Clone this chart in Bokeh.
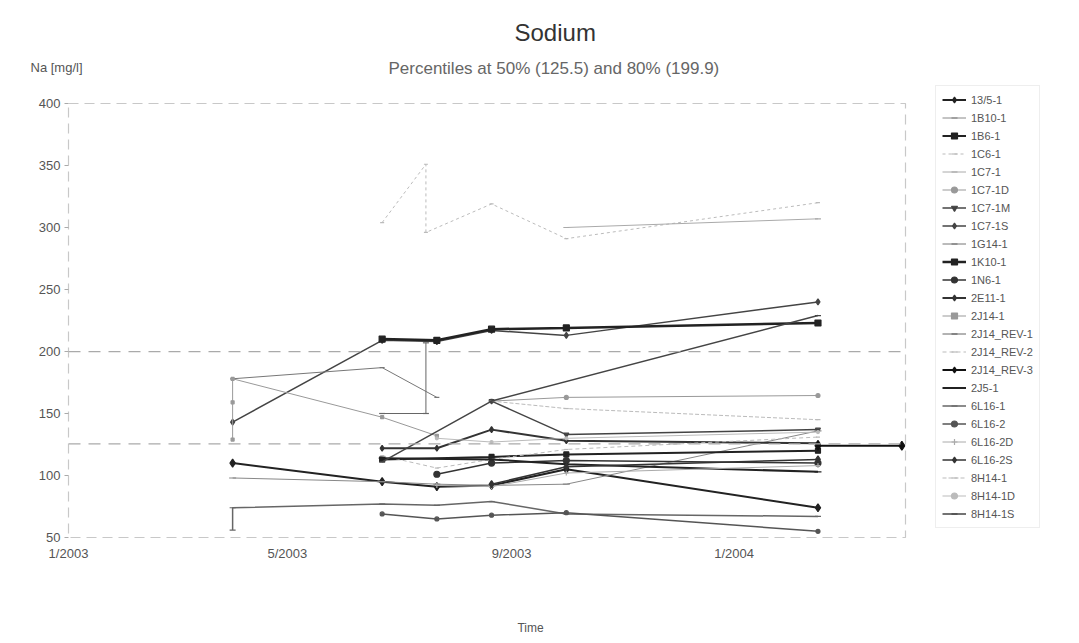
import pandas as pd
from bokeh.plotting import figure
from bokeh.models import (Legend, LegendItem, Label, Span, FixedTicker, Title,
                          DatetimeTickFormatter, Range1d)
from bokeh.embed import file_html
from bokeh.resources import INLINE

# ---------------- data ----------------
title_text = "Sodium"
subtitle_text = "Percentiles at 50% (125.5) and 80% (199.9)"
y_label = "Na [mg/l]"
x_label = "Time"
percentile_50 = 125.5
percentile_80 = 199.9
x_tick_dates = ["2003-01-01", "2003-05-01", "2003-09-01", "2004-01-01"]
y_ticks = [50, 100, 150, 200, 250, 300, 350, 400]

names = ["13/5-1", "1B10-1", "1B6-1", "1C6-1", "1C7-1", "1C7-1D", "1C7-1M",
         "1C7-1S", "1G14-1", "1K10-1", "1N6-1", "2E11-1", "2J14-1",
         "2J14_REV-1", "2J14_REV-2", "2J14_REV-3", "2J5-1", "6L16-1",
         "6L16-2", "6L16-2D", "6L16-2S", "8H14-1", "8H14-1D", "8H14-1S"]

d_13_5_1 = ["2003-04-01", "2003-06-22", "2003-07-22", "2003-08-21", "2003-10-01", "2004-02-16"]
v_13_5_1 = [110, 95, 91, 92, 105, 74]
d_1B10_1 = ["2003-04-01", "2003-06-22", "2003-07-22", "2003-08-21", "2003-10-01", "2004-02-16"]
v_1B10_1 = [98, 95, 93, 92, 93, 136]
d_1B6_1 = ["2003-06-22", "2003-08-21", "2003-10-01", "2004-02-16"]
v_1B6_1 = [113, 115, 117, 120]
d_1C6_1 = ["2003-06-22", "2003-07-16", "2003-07-16", "2003-08-21", "2003-10-01", "2004-02-16"]
v_1C6_1 = [304, 351, 296, 319, 291, 320]
d_1C7_1 = ["2003-10-01", "2004-02-16"]
v_1C7_1 = [300, 307]
d_1C7_1D = ["2003-08-21", "2003-10-01", "2004-02-16"]
v_1C7_1D = [160, 163, 164.5]
d_1C7_1M = ["2003-08-21", "2003-10-01", "2004-02-16"]
v_1C7_1M = [160, 133, 137]
d_1C7_1S = ["2003-04-01", "2003-06-22", "2003-07-22", "2003-08-21", "2003-10-01", "2004-02-16"]
v_1C7_1S = [143, 209, 208, 217, 213, 240]
d_1G14_1 = ["2003-04-01", "2003-06-22", "2003-07-22"]
v_1G14_1 = [178, 187, 163]
d_1K10_1 = ["2003-06-22", "2003-07-22", "2003-08-21", "2003-10-01", "2004-02-16"]
v_1K10_1 = [210, 209, 218, 219, 223]
d_1N6_1 = ["2003-07-22", "2003-08-21", "2003-10-01", "2004-02-16"]
v_1N6_1 = [101, 110, 112, 110]
d_2E11_1 = ["2003-06-22", "2003-07-22", "2003-08-21", "2003-10-01", "2004-02-16"]
v_2E11_1 = [122, 122, 137, 128, 126]
d_2J14_1 = ["2003-04-01", "2003-04-01", "2003-04-01", "2003-06-22", "2003-07-22"]
v_2J14_1 = [129, 159, 178, 147, 132]
d_2J14_REV_1 = ["2003-06-22", "2003-07-16", "2003-07-16"]
v_2J14_REV_1 = [150, 150, 207]
d_2J14_REV_2 = ["2003-06-22", "2003-07-22", "2003-08-21", "2003-10-01", "2004-02-16"]
v_2J14_REV_2 = [116, 106, 113, 121, 131]
d_2J14_REV_3 = ["2004-02-16", "2004-04-02"]
v_2J14_REV_3 = [124, 124]
d_2J5_1 = ["2003-06-22", "2003-08-21", "2003-10-01", "2004-02-16"]
v_2J5_1 = [114, 113, 109, 103]
d_6L16_1 = ["2003-04-01", "2003-04-01", "2003-06-22", "2003-07-22", "2003-08-21", "2003-10-01", "2004-02-16"]
v_6L16_1 = [56, 74, 77, 76, 79, 69, 67]
d_6L16_2 = ["2003-06-22", "2003-07-22", "2003-08-21", "2003-10-01", "2004-02-16"]
v_6L16_2 = [69, 65, 68, 70, 55]
d_6L16_2D = ["2003-07-22", "2003-08-21", "2003-10-01", "2004-02-16"]
v_6L16_2D = [92, 91, 102, 108]
d_6L16_2S = ["2003-08-21", "2003-10-01", "2004-02-16"]
v_6L16_2S = [93, 107, 113]
d_8H14_1 = ["2003-08-21", "2003-10-01", "2004-02-16"]
v_8H14_1 = [160, 154, 145]
d_8H14_1D = ["2003-07-22", "2003-08-21", "2003-10-01", "2004-02-16"]
v_8H14_1D = [130, 127, 130, 135]
d_8H14_1S = ["2003-06-22", "2003-08-21", "2004-02-16"]
v_8H14_1S = [111, 160, 229]

series_dates = [d_13_5_1, d_1B10_1, d_1B6_1, d_1C6_1, d_1C7_1, d_1C7_1D, d_1C7_1M,
                d_1C7_1S, d_1G14_1, d_1K10_1, d_1N6_1, d_2E11_1, d_2J14_1,
                d_2J14_REV_1, d_2J14_REV_2, d_2J14_REV_3, d_2J5_1, d_6L16_1,
                d_6L16_2, d_6L16_2D, d_6L16_2S, d_8H14_1, d_8H14_1D, d_8H14_1S]
series_vals = [v_13_5_1, v_1B10_1, v_1B6_1, v_1C6_1, v_1C7_1, v_1C7_1D, v_1C7_1M,
               v_1C7_1S, v_1G14_1, v_1K10_1, v_1N6_1, v_2E11_1, v_2J14_1,
               v_2J14_REV_1, v_2J14_REV_2, v_2J14_REV_3, v_2J5_1, v_6L16_1,
               v_6L16_2, v_6L16_2D, v_6L16_2S, v_8H14_1, v_8H14_1D, v_8H14_1S]

# ---------------- styles (color, width, dash, marker, marker size) ----------------
styles = [
    ("#222222", 2.0, "solid", "diamond", 8),
    ("#888888", 1.0, "solid", "dash", 7),
    ("#222222", 2.0, "solid", "square", 5),
    ("#bbbbbb", 1.0, "3 3", "dash", 4),
    ("#aaaaaa", 1.0, "solid", "dash", 6),
    ("#999999", 1.0, "solid", "circle", 4),
    ("#444444", 1.5, "solid", "inverted_triangle", 5),
    ("#444444", 1.5, "solid", "diamond", 6),
    ("#777777", 1.0, "solid", "dash", 5),
    ("#222222", 2.5, "solid", "square", 6),
    ("#333333", 1.5, "solid", "circle", 6),
    ("#333333", 2.0, "solid", "diamond", 6),
    ("#999999", 1.0, "solid", "square", 3),
    ("#666666", 1.0, "solid", "dash", 6),
    ("#bbbbbb", 1.0, "4 3", "dash", 4),
    ("#111111", 2.0, "solid", "diamond", 9),
    ("#222222", 2.0, "solid", "dash", 7),
    ("#666666", 1.5, "solid", "dash", 6),
    ("#555555", 1.5, "solid", "circle", 4),
    ("#aaaaaa", 1.0, "solid", "cross", 5),
    ("#333333", 1.5, "solid", "diamond", 7),
    ("#bbbbbb", 1.0, "4 2", "dash", 5),
    ("#bbbbbb", 1.0, "solid", "circle", 3),
    ("#444444", 1.5, "solid", "dash", 6),
]

FONT = "Liberation Sans"

x_start = pd.Timestamp("2003-01-01")
x_end = pd.Timestamp("2004-04-04")

p = figure(frame_width=837, frame_height=434, x_axis_type="datetime",
           output_backend="svg", toolbar_location=None,
           x_range=Range1d(x_start, x_end), y_range=Range1d(50, 400),
           min_border_left=68, min_border_right=160,
           min_border_top=103, min_border_bottom=104)
p.title.visible = False
p.background_fill_color = "white"
p.border_fill_color = "white"
p.grid.visible = False
p.outline_line_color = "#c8c8c8"
p.outline_line_dash = "10 6"
p.outline_line_width = 1.2

# axes
p.xaxis.ticker = FixedTicker(ticks=[pd.Timestamp(d).value / 1e6 for d in x_tick_dates])
p.xaxis.formatter = DatetimeTickFormatter(days="%-m/%Y", months="%-m/%Y", years="%-m/%Y")
p.yaxis.ticker = FixedTicker(ticks=y_ticks)
for ax in (p.xaxis[0], p.yaxis[0]):
    ax.axis_line_color = None
    ax.major_tick_line_color = "#aaaaaa"
    ax.minor_tick_line_color = None
    ax.major_tick_out = 4
    ax.major_tick_in = 0
    ax.major_label_text_font = FONT
    ax.major_label_text_font_size = "13px"
    ax.major_label_text_color = "#555555"
p.xaxis.major_tick_line_color = None
p.xaxis.major_label_standoff = 4
p.yaxis.major_label_standoff = 4

# percentile lines
for loc in (percentile_50, percentile_80):
    p.add_layout(Span(location=loc, dimension="width", line_color="#aaaaaa",
                      line_dash="12 8", line_width=1.2))

items = []
for name, ds, vs, st in zip(names, series_dates, series_vals, styles):
    color, lw, dash, marker, msize = st
    xs = [pd.Timestamp(d) for d in ds]
    r1 = p.line(xs, vs, line_color=color, line_width=lw, line_dash=dash)
    r2 = p.scatter(xs, vs, marker=marker, size=msize, line_color=color,
                   fill_color=color, line_width=1.2)
    items.append(LegendItem(label=name, renderers=[r1, r2]))

legend = Legend(items=items, location=(30, 9))
legend.label_text_font = FONT
legend.label_text_font_size = "11px"
legend.label_text_color = "#555555"
legend.glyph_height = 15
legend.label_height = 15
legend.glyph_width = 24
legend.spacing = 3
legend.padding = 6
legend.margin = 0
legend.border_line_color = "#dddddd"
legend.background_fill_alpha = 0
p.add_layout(legend, "right")

# y-axis caption (closest row above the frame)
p.add_layout(Label(x=-38, y=36, x_units="screen", y_units="screen", text=y_label,
                   text_font=FONT, text_font_size="13px", text_color="#555555",
                   text_align="left", text_baseline="middle"), "above")
# titles
p.add_layout(Title(text=subtitle_text, align="left", offset=320,
                   text_font=FONT, text_font_size="17px", text_font_style="normal",
                   text_color="#666666", standoff=22), "above")
p.add_layout(Title(text=title_text, align="left", offset=446,
                   text_font=FONT, text_font_size="24px", text_font_style="normal",
                   text_color="#333333", standoff=0), "above")

# x-axis caption
p.add_layout(Label(x=462, y=-50, x_units="screen", y_units="screen", text=x_label,
                   text_font=FONT, text_font_size="12px", text_color="#555555",
                   text_align="center", text_baseline="middle"), "below")

open("out.html", "w").write(file_html(p, INLINE))
